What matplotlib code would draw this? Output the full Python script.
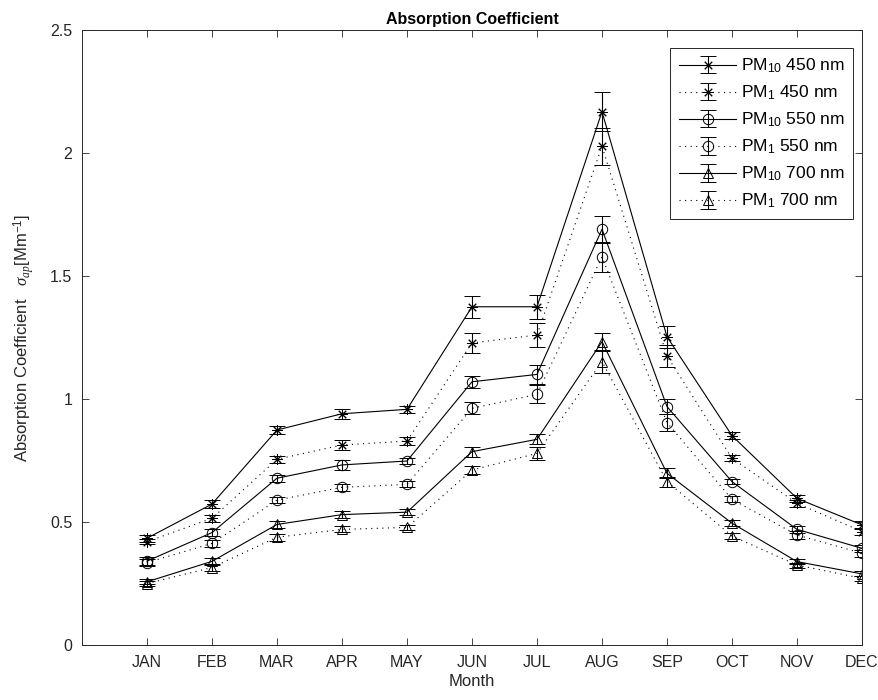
import matplotlib
matplotlib.use("Agg")
import matplotlib.pyplot as plt
import numpy as np

plt.rcParams['font.family'] = ['Liberation Sans', 'DejaVu Sans']
plt.rcParams['mathtext.fontset'] = 'custom'
plt.rcParams['mathtext.rm'] = 'Liberation Sans'
plt.rcParams['mathtext.it'] = 'Liberation Serif:italic'
plt.rcParams['mathtext.bf'] = 'Liberation Sans:bold'

months = ['JAN', 'FEB', 'MAR', 'APR', 'MAY', 'JUN', 'JUL', 'AUG', 'SEP', 'OCT', 'NOV', 'DEC']

pm10_450 = [0.434, 0.573, 0.874, 0.940, 0.958, 1.375, 1.375, 2.168, 1.253, 0.851, 0.596, 0.488]
pm1_450 = [0.420, 0.515, 0.755, 0.813, 0.829, 1.228, 1.260, 2.028, 1.175, 0.759, 0.576, 0.461]
pm10_550 = [0.341, 0.457, 0.678, 0.732, 0.748, 1.070, 1.100, 1.690, 0.969, 0.664, 0.470, 0.393]
pm1_550 = [0.335, 0.413, 0.589, 0.641, 0.653, 0.962, 1.019, 1.578, 0.904, 0.592, 0.447, 0.373]
pm10_700 = [0.257, 0.340, 0.490, 0.530, 0.540, 0.786, 0.836, 1.233, 0.698, 0.495, 0.339, 0.289]
pm1_700 = [0.250, 0.315, 0.438, 0.470, 0.478, 0.711, 0.779, 1.152, 0.664, 0.443, 0.325, 0.271]

err10_450 = [0.015, 0.015, 0.015, 0.020, 0.015, 0.045, 0.048, 0.080, 0.045, 0.015, 0.015, 0.015]
err1_450 = [0.010, 0.015, 0.015, 0.020, 0.015, 0.040, 0.047, 0.075, 0.045, 0.012, 0.015, 0.015]
err10_550 = [0.015, 0.015, 0.015, 0.020, 0.012, 0.025, 0.040, 0.055, 0.030, 0.010, 0.015, 0.015]
err1_550 = [0.015, 0.015, 0.012, 0.015, 0.012, 0.025, 0.037, 0.060, 0.035, 0.012, 0.015, 0.015]
err10_700 = [0.010, 0.015, 0.015, 0.015, 0.012, 0.020, 0.020, 0.035, 0.020, 0.012, 0.010, 0.010]
err1_700 = [0.010, 0.015, 0.015, 0.012, 0.010, 0.015, 0.025, 0.045, 0.020, 0.012, 0.010, 0.010]

labels = ['PM$_{10}$ 450 nm', 'PM$_{1}$ 450 nm', 'PM$_{10}$ 550 nm',
          'PM$_{1}$ 550 nm', 'PM$_{10}$ 700 nm', 'PM$_{1}$ 700 nm']

series = [pm10_450, pm1_450, pm10_550, pm1_550, pm10_700, pm1_700]
errors = [err10_450, err1_450, err10_550, err1_550, err10_700, err1_700]
markers = [(8, 2, 0), (8, 2, 0), 'o', 'o', '^', '^']
styles = ['-', (0, (1, 4)), '-', (0, (1, 4)), '-', (0, (1, 4))]

fig = plt.figure(figsize=(8.79, 7.0), dpi=100)
ax = fig.add_axes([82 / 879, 55 / 700, 780 / 879, 615 / 700])

x = np.arange(1, len(months) + 1)
axc = '#262626'
for y, e, m, ls, lab in zip(series, errors, markers, styles, labels):
    ax.errorbar(x, y, yerr=e, color='black', linestyle=ls, linewidth=0.8,
                marker=m, markersize=7.5, markerfacecolor='none',
                markeredgecolor='black', markeredgewidth=0.7,
                ecolor='black', elinewidth=0.8, capsize=6, capthick=0.8,
                label=lab)

ax.set_xlim(0, 12)
ax.set_ylim(0, 2.5)
ax.set_xticks(x)
ax.set_xticklabels(months)
ax.set_yticks([0, 0.5, 1, 1.5, 2, 2.5])
ax.set_yticklabels(['0', '0.5', '1', '1.5', '2', '2.5'])
ax.tick_params(direction='in', top=True, right=True, length=5, width=0.6,
               labelsize=11.5, colors=axc, pad=7)
for s in ax.spines.values():
    s.set_linewidth(0.7)
    s.set_color(axc)

ax.set_title('Absorption Coefficient', fontsize=11.5, fontweight='bold', pad=4, color='black')
ax.set_xlabel('Month', fontsize=12, color=axc, labelpad=3)
ax.set_ylabel(r'Absorption Coefficient   $\sigma_{ap}$[Mm$^{-1}$]', fontsize=12,
              color=axc, labelpad=10)

leg = ax.legend(loc='upper right', bbox_to_anchor=((853 - 82) / 780, (645 - 48) / 615),
                fontsize=12.5, frameon=True, fancybox=False, framealpha=1,
                edgecolor=axc, handlelength=3.3, labelspacing=0.5,
                handletextpad=0.25, borderpad=0.5, borderaxespad=0)
leg.get_frame().set_linewidth(0.7)

fig.savefig('out.png', dpi=100)
